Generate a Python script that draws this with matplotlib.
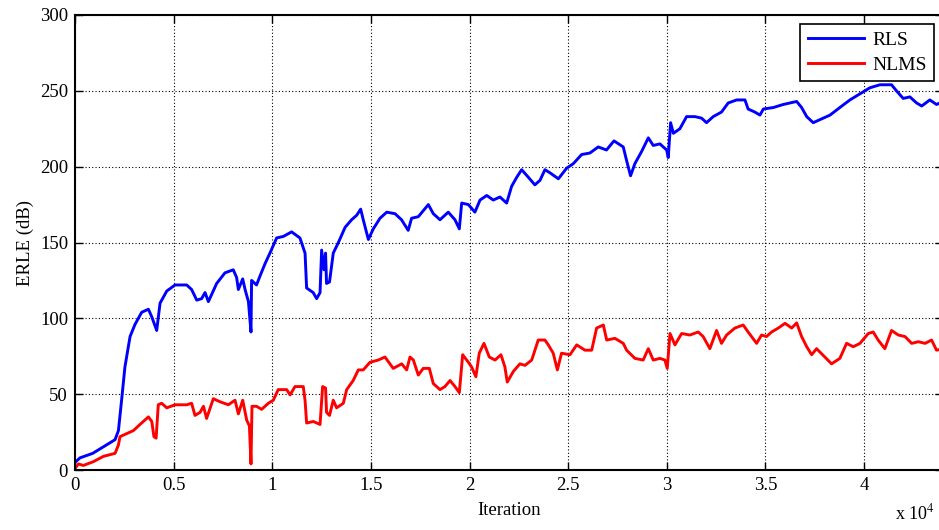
import numpy as np
import matplotlib
matplotlib.use('Agg')
from matplotlib import pyplot as plt

plt.rcParams['font.family'] = ['Liberation Serif', 'DejaVu Serif']
plt.rcParams['mathtext.fontset'] = 'stix'

# RLS learning curve (iteration, ERLE in dB)
rls_iter = [0, 250, 900, 1775, 2030, 2200, 2360, 2530, 2790, 3040, 3380, 3720, 3890,
            4140, 4310, 4650, 5070, 5660, 5910, 6170, 6420, 6590, 6760, 7180, 7600,
            8020, 8190, 8280, 8500, 8620, 8790, 8920, 8950, 9200, 9380, 9630, 9880,
            10220, 10560, 10980, 11400, 11660, 11740, 12070, 12250, 12420, 12500,
            12620, 12700, 12750, 12900, 13090, 13350, 13690, 14020, 14280, 14480,
            14610, 14870, 15120, 15460, 15800, 16220, 16550, 16890, 17060, 17400,
            17910, 18160, 18500, 18920, 19260, 19480, 19600, 19940, 20270, 20530,
            20870, 21200, 21540, 21880, 22130, 22390, 22640, 22980, 23310, 23570,
            23820, 24070, 24500, 24920, 25260, 25680, 26100, 26520, 26940, 27320,
            27790, 27960, 28160, 28380, 28720, 29060, 29310, 29650, 29990, 30070,
            30190, 30330, 30660, 31000, 31420, 31760, 32010, 32350, 32770, 33110,
            33540, 33960, 34120, 34460, 34720, 34890, 35400, 35900, 36580, 36830,
            37090, 37420, 37760, 38270, 38770, 39280, 39790, 40290, 40800, 41390,
            41640, 41980, 42320, 42660, 42920, 43330, 43670, 44000]
rls_erle = [5, 8, 11, 18, 20, 26, 46, 68, 88, 96, 104, 106, 101,
            92, 110, 118, 122, 122, 119, 112, 113, 117, 111, 123, 130,
            132, 127, 119, 126, 119, 111, 91, 125, 122, 128, 136, 143,
            153, 154, 157, 153, 143, 120, 117, 113, 117, 145,
            132, 143, 123, 124, 143, 150, 160, 165, 168, 172,
            165, 152, 159, 166, 170, 169, 165, 158, 166, 167,
            175, 169, 165, 170, 165, 159, 176, 175, 170, 178,
            181, 178, 180, 176, 187, 193, 198, 193, 188, 191,
            198, 196, 192, 199, 202, 208, 209, 213, 211, 217,
            213, 204, 194, 202, 210, 219, 214, 215, 211, 206,
            229, 222, 225, 233, 233, 232, 229, 233, 236, 242,
            244, 244, 238, 236, 234, 238, 239, 241, 243, 239,
            233, 229, 231, 234, 239, 244, 248, 252, 254, 254,
            250, 245, 246, 242, 240, 244, 241, 243]

# NLMS learning curve
nlms_iter = [0, 170, 420, 930, 1440, 2030, 2200, 2280, 2620, 2960, 3290, 3720, 3890,
             4000, 4110, 4220, 4390, 4650, 5070, 5660, 5910, 6080, 6340, 6510, 6670,
             7010, 7350, 7770, 8110, 8280, 8500, 8700, 8840, 8920, 8970, 9200, 9460,
             9800, 10050, 10300, 10730, 10900, 11150, 11570, 11660, 11740, 12080,
             12420, 12550, 12700, 12750, 12900, 13090, 13260, 13600, 13770, 14100,
             14360, 14610, 14950, 15370, 15710, 16130, 16560, 16810, 16980, 17150,
             17400, 17650, 17960, 18160, 18500, 18750, 19010, 19260, 19480, 19650,
             19940, 20100, 20320, 20490, 20730, 21000, 21290, 21590, 21790, 21910,
             22220, 22550, 22810, 23150, 23310, 23480, 23820, 23990, 24240, 24450,
             24660, 25090, 25430, 25850, 26190, 26440, 26780, 26950, 27370, 27790,
             27960, 28380, 28800, 29060, 29310, 29650, 29900, 30020, 30160, 30410,
             30750, 31170, 31590, 31840, 32180, 32520, 32770, 33030, 33450, 33870,
             34120, 34550, 34800, 35050, 35310, 35650, 35990, 36330, 36580, 36830,
             37090, 37340, 37590, 38010, 38350, 38770, 39110, 39450, 39790, 40210,
             40460, 40710, 41050, 41390, 41730, 42070, 42410, 42750, 43090, 43420,
             43670, 44000]
nlms_erle = [1, 4, 3, 5.5, 9, 11, 16.5, 22, 24, 26, 30, 35, 32,
             22, 21, 43, 44, 41, 43, 43, 44, 36, 38, 42, 34,
             47, 45, 43, 46, 37, 46, 33, 29, 4, 42, 42, 40,
             44, 46, 53, 53, 49.5, 55, 55, 46, 31, 32,
             30, 55, 54, 38, 36, 46, 41, 44, 53, 59,
             66, 66, 71, 72.5, 74.5, 67, 70, 66, 74.5, 72.5,
             62.6, 67, 67, 57, 53, 55, 59, 55, 51, 76,
             71, 68, 61.5, 77, 83.5, 74.5, 72.5, 76, 68, 58,
             65, 70, 69, 72.5, 79, 85.7, 85.7, 82.5, 77, 66,
             77, 76, 82.5, 79, 79, 93.6, 95.6, 85.7, 86.8, 83.5,
             79, 73.6, 72.5, 80, 72.5, 73.6, 72.5, 67, 90, 82.5,
             90, 89, 91, 88, 80, 92, 83.5, 89, 93.6, 95.6,
             91, 83.5, 89, 88, 91, 93.6, 96.7, 93.6, 97, 88,
             81.3, 76, 80, 74.5, 70, 73.6, 83.5, 81.3, 83.5, 90,
             91, 85.7, 80, 92, 89, 88, 83.5, 84.6, 83.5, 85.7,
             79, 80]

fig = plt.figure(figsize=(9.39, 5.30), dpi=100)
# the right end of the axes (4.4e4) runs just past the figure edge
ax = fig.add_axes([0.0799, 0.1132, 0.9244, 0.8585])

ax.plot(rls_iter, rls_erle, color='#0000ff', linewidth=2.1, label='RLS')
ax.plot(nlms_iter, nlms_erle, color='#ff0000', linewidth=2.1, label='NLMS')

ax.set_xlim(0, 44000)
ax.set_ylim(0, 300)
ax.set_xticks(np.arange(0, 45000, 5000))
ax.set_xticklabels(['0', '0.5', '1', '1.5', '2', '2.5', '3', '3.5', '4'])
ax.set_yticks(np.arange(0, 301, 50))
ax.tick_params(direction='in', top=True, right=True, labelsize=13.5, length=6, width=1,
               pad=5)
ax.grid(True, color='black', linestyle=(0, (1, 2)), linewidth=0.8)
for sp in ax.spines.values():
    sp.set_linewidth(1.5)

ax.set_xlabel('Iteration', fontsize=13.5, labelpad=6)
ax.set_ylabel('ERLE (dB)', fontsize=13.5, labelpad=4)
# exponent for the x axis, bottom-right corner
fig.text(0.996, 0.012, r'x 10$^{4}$', fontsize=13, ha='right', va='bottom')

leg = ax.legend(loc='upper right', fontsize=14, fancybox=False, framealpha=1,
                edgecolor='black', borderaxespad=0.45, handlelength=2.9,
                handletextpad=0.4, labelspacing=0.35, borderpad=0.4)
leg.get_frame().set_linewidth(1.2)

fig.savefig('out.png', dpi=100)
